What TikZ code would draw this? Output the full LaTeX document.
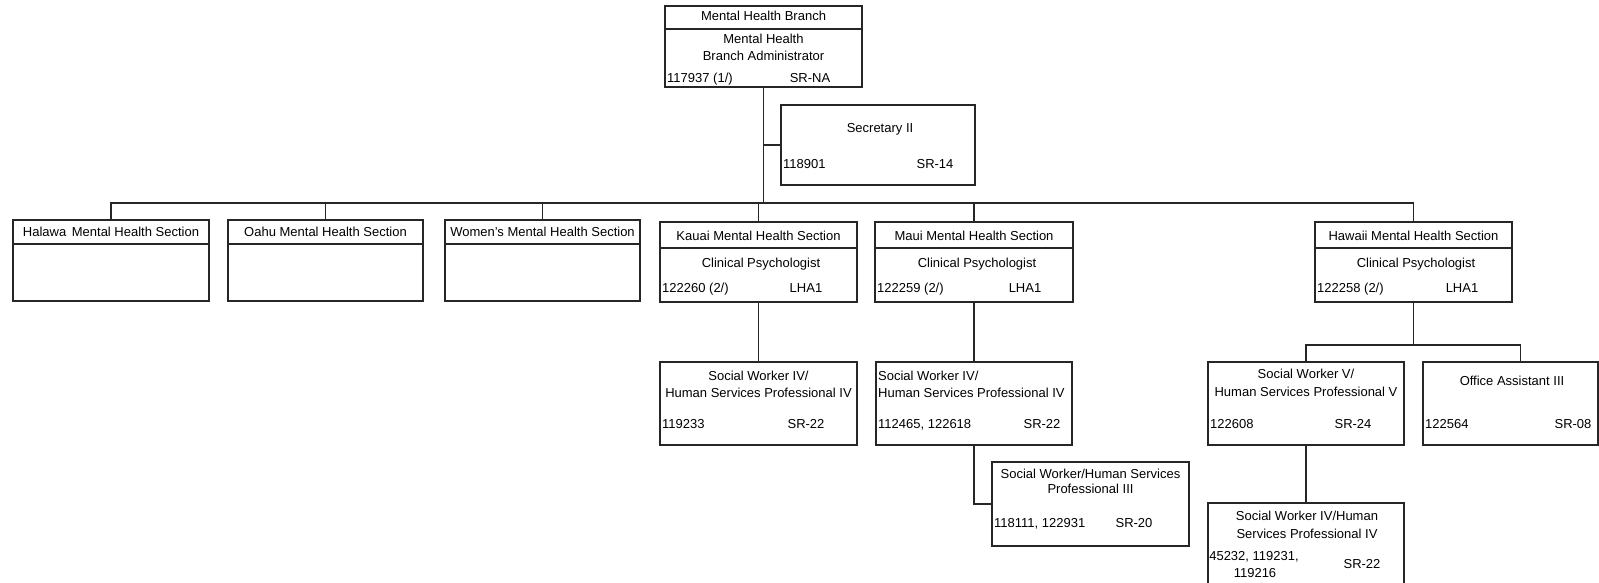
\documentclass[tikz,border=0pt]{standalone}
\usepackage{fontspec}
\setmainfont{Liberation Sans}
\usetikzlibrary{calc}
\begin{document}
\begin{tikzpicture}[x=1pt,y=-1pt,
  font=\fontsize{13}{16}\selectfont,
  box/.style={draw=black!85,line width=1.3pt,rectangle,inner sep=0pt,outer sep=0pt},
  conn/.style={draw=black!85,line width=1.3pt},
  txt/.style={inner sep=0pt,anchor=base},
  txl/.style={inner sep=0pt,anchor=base west}]
\clip (0,0) rectangle (1599,583);
\fill[white] (0,0) rectangle (1599,583);
% boxes
\node[box,minimum width=197pt,minimum height=81pt] (top) at (763.5,46.5) {};
\node[box,minimum width=194pt,minimum height=80pt] (sec) at (878,145) {};
\node[box,minimum width=196pt,minimum height=81pt] (halawa) at (111,260.5) {};
\node[box,minimum width=195pt,minimum height=81pt] (oahu) at (325.5,260.5) {};
\node[box,minimum width=195pt,minimum height=81pt] (women) at (542.5,260.5) {};
\node[box,minimum width=197pt,minimum height=80pt] (kauai) at (758.5,262) {};
\node[box,minimum width=198pt,minimum height=80pt] (maui) at (974,262) {};
\node[box,minimum width=197pt,minimum height=80pt] (hawaii) at (1413.5,262) {};
\node[box,minimum width=197pt,minimum height=83pt] (kauaisw) at (758.5,403.5) {};
\node[box,minimum width=196pt,minimum height=83pt] (mauisw) at (974,403.5) {};
\node[box,minimum width=196pt,minimum height=83pt] (swv) at (1306,403.5) {};
\node[box,minimum width=175pt,minimum height=83pt] (oa) at (1510.5,403.5) {};
\node[box,minimum width=197pt,minimum height=84pt] (mauiiii) at (1090.5,504) {};
\node[box,minimum width=196pt,minimum height=117pt] (hswiv) at (1306,561.5) {};
% header rules
\draw[conn] ($(top.north west)+(0,23)$) -- ($(top.north east)+(0,23)$);
\foreach \b in {halawa,oahu,women}
  \draw[conn] ($(\b.north west)+(0,24)$) -- ($(\b.north east)+(0,24)$);
\foreach \b in {kauai,maui,hawaii}
  \draw[conn] ($(\b.north west)+(0,26)$) -- ($(\b.north east)+(0,26)$);
% connectors
\coordinate (hl) at (top.south |- 0,203);
\draw[conn] (top.south) -- (hl);
\draw[conn] (sec.west) -- (sec.west -| top.south);
\foreach \b in {halawa,oahu,women,kauai,maui,hawaii}
  \draw[conn] (\b.north) |- (hl);
\draw[conn] (kauai.south) -- (kauai.south |- kauaisw.north);
\draw[conn] (maui.south) -- (maui.south |- mauisw.north);
\draw[conn] (mauisw.south) |- (mauiiii.west);
\coordinate (hb) at (hawaii.south |- 0,345);
\draw[conn] (hawaii.south) -- (hb);
\draw[conn] (swv.north) |- (hb);
\draw[conn] ([xshift=10pt]oa.north) |- (hb);
\draw[conn] (swv.south) -- (hswiv.north);
% texts: top
\node[txt] (t1) at (763.5,21) {Mental Health Branch};
\node[txt] (t2) at (763.5,44) {Mental Health};
\node[txt] (t3) at (763.5,61) {Branch Administrator};
\node[txl] (t4) at (667,83) {117937 (1/)};
\node[txt] (t5) at (810,83) {SR-NA};
% secretary
\node[txt] (s1) at (880,133) {Secretary II};
\node[txl] (s2) at (783,169) {118901};
\node[txt] (s3) at (935,169) {SR-14};
% row 1
\node[txt] (h1) at (111,236) {Halawa\hspace{2pt} Mental Health Section};
\node[txt] (o1) at (325.5,236) {Oahu Mental Health Section};
\node[txt] (w1) at (542.5,236) {Women's Mental Health Section};
% row 2
\node[txt] (k1) at (758.5,240) {Kauai Mental Health Section};
\node[txt] (k2) at (761,267) {Clinical Psychologist};
\node[txl] (k3) at (662,292) {122260 (2/)};
\node[txt] (k4) at (806,292) {LHA1};
\node[txt] (m1) at (974,240) {Maui Mental Health Section};
\node[txt] (m2) at (977,267) {Clinical Psychologist};
\node[txl] (m3) at (877,292) {122259 (2/)};
\node[txt] (m4) at (1025,292) {LHA1};
\node[txt] (w2) at (1413.5,240) {Hawaii Mental Health Section};
\node[txt] (w3) at (1416,267) {Clinical Psychologist};
\node[txl] (w4) at (1317,292) {122258 (2/)};
\node[txt] (w5) at (1462,292) {LHA1};
% SW row
\node[txt] (ks1) at (758.5,380) {Social Worker IV/};
\node[txt] (ks2) at (758.5,397) {Human Services Professional IV};
\node[txl] (ks3) at (662,428) {119233};
\node[txt] (ks4) at (806,428) {SR-22};
\node[txl] (ms1) at (878,380) {Social Worker IV/};
\node[txl] (ms2) at (878,397) {Human Services Professional IV};
\node[txl] (ms3) at (878,428) {112465, 122618};
\node[txt] (ms4) at (1042,428) {SR-22};
\node[txt] (v1) at (1306,378) {Social Worker V/};
\node[txt] (v2) at (1306,396) {Human Services Professional V};
\node[txl] (v3) at (1210,428) {122608};
\node[txt] (v4) at (1353,428) {SR-24};
\node[txt] (a1) at (1512,385) {Office Assistant III};
\node[txl] (a2) at (1425,428) {122564};
\node[txt] (a3) at (1573,428) {SR-08};
% Maui III
\node[txt] (mi1) at (1090.5,478) {Social Worker/Human Services};
\node[txt] (mi2) at (1090.5,493) {Professional III};
\node[txl] (mi3) at (994,527) {118111, 122931};
\node[txt] (mi4) at (1134,527) {SR-20};
% Hawaii SW IV
\node[txt] (hs1) at (1307,520) {Social Worker IV/Human};
\node[txt] (hs2) at (1307,538) {Services Professional IV};
\node[txt] (hs3) at (1254,560) {45232, 119231,};
\node[txt] (hs4) at (1255,577) {119216};
\node[txt] (hs5) at (1362,568) {SR-22};
\end{tikzpicture}
\end{document}
